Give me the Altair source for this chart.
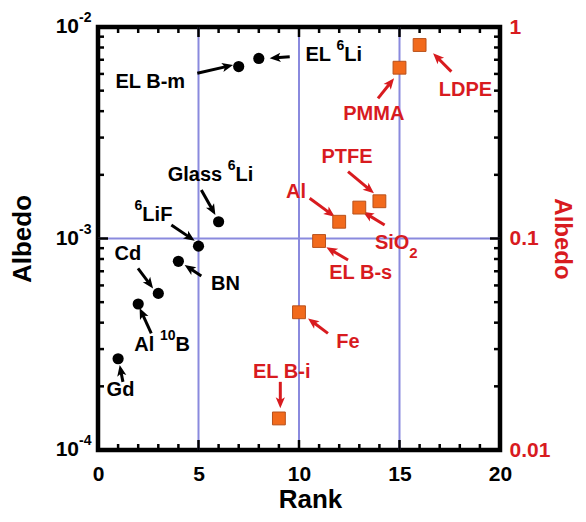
import math
import altair as alt
import pandas as pd

# ---------------- data ----------------
# black circles (left axis, albedo 1e-4 .. 1e-2)
b_rank = [1, 2, 3, 4, 5, 6, 7, 8]
b_albedo = [2.7e-4, 4.9e-4, 5.5e-4, 7.8e-4, 9.2e-4, 1.2e-3, 6.5e-3, 7.1e-3]
# label pieces: (text, kind) with kind "n" normal, "sup" superscript, "sub" subscript
b_label = [
    [("Gd", "n")],
    [("Al ", "n"), ("10", "sup"), ("B", "n")],
    [("Cd", "n")],
    [("BN", "n")],
    [("6", "sup"), ("LiF", "n")],
    [("Glass ", "n"), ("6", "sup"), ("Li", "n")],
    [("EL B-m", "n")],
    [("EL ", "n"), ("6", "sup"), ("Li", "n")],
]
b_label_x = [1.12, 3.19, 1.49, 6.34, 2.76, 5.60, 2.61, 11.73]
b_label_y = [1.92e-4, 3.14e-4, 8.45e-4, 6.09e-4, 1.29e-3, 2.0e-3, 5.49e-3, 7.37e-3]
b_tail_x = [1.24, 2.65, 1.99, 5.14, 3.65, 5.14, 4.94, 9.54]
b_tail_y = [2.10e-4, 3.56e-4, 7.23e-4, 6.65e-4, 1.158e-3, 1.696e-3, 6.04e-3, 7.24e-3]
b_head_x = [1.08, 2.07, 2.74, 4.31, 4.81, 5.84, 6.72, 8.54]
b_head_y = [2.52e-4, 4.69e-4, 5.81e-4, 7.49e-4, 9.76e-4, 1.291e-3, 6.61e-3, 7.11e-3]

# orange squares (right axis, albedo 0.01 .. 1)
o_rank = [9, 10, 11, 12, 13, 14, 15, 16]
o_albedo = [0.0141, 0.0448, 0.0973, 0.120, 0.140, 0.150, 0.642, 0.822]
o_label = [
    [("EL B-i", "n")],
    [("Fe", "n")],
    [("EL B-s", "n")],
    [("Al", "n")],
    [("SiO", "n"), ("2", "sub")],
    [("PTFE", "n")],
    [("PMMA", "n")],
    [("LDPE", "n")],
]
o_label_x = [9.15, 12.44, 13.08, 9.85, 14.84, 12.39, 13.72, 18.28]
o_label_y = [0.02346, 0.0325, 0.0687, 0.1668, 0.0957, 0.2436, 0.388, 0.504]
o_tail_x = [9.07, 11.44, 12.44, 10.53, 14.26, 12.44, 13.93, 17.58]
o_tail_y = [0.0210, 0.0356, 0.0791, 0.155, 0.1158, 0.2069, 0.460, 0.615]
o_head_x = [9.07, 10.45, 11.36, 11.78, 13.18, 13.73, 14.73, 16.67]
o_head_y = [0.01574, 0.0419, 0.0909, 0.1268, 0.1338, 0.1636, 0.572, 0.751]

x_ticklabels = [0, 5, 10, 15, 20]
x_grid = [5, 10, 15]
y_grid = [1e-3]
x_minor = [i for i in range(1, 20) if i % 5]
x_major = [5, 10, 15]
y_minor = [m * d for d in (1e-4, 1e-3) for m in range(2, 10)]
y_major = [1e-3]
left_vals = [1e-4, 1e-3, 1e-2]
left_exp = ["-4", "-3", "-2"]
right_vals = [0.01, 0.1, 1]

# ---------------- styling ----------------
W, H = 402, 423
XDOM = [0, 20]
YB = [1e-4, 1e-2]
YO = [0.01, 1.0]
FONT = "Liberation Sans"
RED = "#d81b1f"
ORANGE = "#f26a1c"
ORANGE_EDGE = "#b8501a"
GRID = "#8a8ade"
FS = {"n": 20, "sup": 14, "sub": 15}
RISE = {"n": 0, "sup": -9, "sub": 10}
# Arial/Liberation Sans Bold advance widths (per 1000 em)
ADV = {"E": 667, "L": 611, " ": 278, "i": 278, "6": 556, "1": 556, "0": 556,
       "2": 556, "G": 778, "l": 278, "a": 556, "s": 556, "F": 611, "A": 722,
       "B": 722, "S": 667, "O": 778, "C": 722, "d": 611, "N": 722, "m": 889,
       "-": 333, "e": 556, "P": 667, "T": 611, "M": 833, "D": 722}


def px(x):
    return (x - XDOM[0]) / (XDOM[1] - XDOM[0]) * W


def py(y, dom):
    a, b = math.log10(dom[0]), math.log10(dom[1])
    return (b - math.log10(y)) / (b - a) * H


def inv_x(p):
    return XDOM[0] + p / W * (XDOM[1] - XDOM[0])


def inv_y(p, dom):
    a, b = math.log10(dom[0]), math.log10(dom[1])
    return 10 ** (b - p / H * (b - a))


def arrows(tx, ty, hx, hy, dom):
    shafts, heads = [], []
    for a, b, c, d in zip(tx, ty, hx, hy):
        x0, y0, x1, y1 = px(a), py(b, dom), px(c), py(d, dom)
        dx, dy = x1 - x0, y1 - y0
        L = math.hypot(dx, dy)
        ex, ey = x1 - dx / L * 6, y1 - dy / L * 6
        shafts.append(dict(x=a, y=b, x2=inv_x(ex), y2=inv_y(ey, dom)))
        heads.append(dict(x=c, y=d, ang=math.degrees(math.atan2(dx, -dy)) % 360))
    return pd.DataFrame(shafts), pd.DataFrame(heads)


def label_pieces(labels, lx, ly, dom):
    rows = []
    for pieces, cx, cy in zip(labels, lx, ly):
        widths = [sum(ADV.get(ch, 600) for ch in t) / 1000 * FS[k] for t, k in pieces]
        left = px(cx) - sum(widths) / 2
        ypx = py(cy, dom)
        for (t, k), w in zip(pieces, widths):
            rows.append(dict(x=inv_x(left), y=inv_y(ypx + RISE[k], dom), t=t, fs=FS[k]))
            left += w
    return pd.DataFrame(rows)


xs = alt.Scale(domain=XDOM, nice=False, zero=False)
xaxis = alt.Axis(values=x_ticklabels, grid=False, ticks=False, domain=False,
                 labelFont=FONT, labelFontSize=21, labelFontWeight="bold",
                 labelColor="black", labelPadding=13, labelFlush=False, title="Rank",
                 titleFont=FONT, titleFontSize=26, titleFontWeight="bold",
                 titleColor="black", titlePadding=2, titleX=212)
ybs = alt.Scale(type="log", domain=YB, nice=False)
ybaxis = alt.Axis(labels=False, ticks=False, domain=False, grid=False,
                  title="Albedo", titleFont=FONT, titleFontSize=26,
                  titleFontWeight="bold", titleColor="black", titlePadding=63)
yos = alt.Scale(type="log", domain=YO, nice=False)
yoaxis = alt.Axis(orient="right", values=right_vals, format="~g", ticks=False,
                  domain=False, grid=False, labelFont=FONT, labelFontSize=21,
                  labelFontWeight="bold", labelColor=RED, labelPadding=9,
                  title="Albedo", titleFont=FONT, titleFontSize=24,
                  titleFontWeight="bold", titleColor=RED, titleAngle=90,
                  titlePadding=0)

XB = alt.X("x:Q", scale=xs, axis=xaxis)
YBe = alt.Y("y:Q", scale=ybs, axis=ybaxis)
YOe = alt.Y("y:Q", scale=yos, axis=yoaxis)

# ---------------- black group ----------------
gx = alt.Chart(pd.DataFrame({"x": x_grid})).mark_rule(color=GRID, strokeWidth=2).encode(x=XB)
gy = alt.Chart(pd.DataFrame({"y": y_grid})).mark_rule(color=GRID, strokeWidth=2).encode(y=YBe)


def xticks(vals, length):
    d = pd.DataFrame({"x": vals})
    bot = alt.Chart(d).mark_rule(color="black", strokeWidth=2.5).encode(
        x=XB, y=alt.value(H), y2=alt.value(H - length))
    top = alt.Chart(d).mark_rule(color="black", strokeWidth=2.5).encode(
        x=XB, y=alt.value(0), y2=alt.value(length))
    return [bot, top]


def yticks(vals, length):
    d = pd.DataFrame({"y": vals})
    lft = alt.Chart(d).mark_rule(color="black", strokeWidth=2.5).encode(
        y=YBe, x=alt.value(0), x2=alt.value(length))
    rgt = alt.Chart(d).mark_rule(color="black", strokeWidth=2.5).encode(
        y=YBe, x=alt.value(W), x2=alt.value(W - length))
    return [lft, rgt]


tick_layers = xticks(x_minor, 6) + xticks(x_major, 10) + yticks(y_minor, 6) + yticks(y_major, 10)

ylab = pd.DataFrame({"y": left_vals, "e": left_exp, "b": ["10"] * 3})
ylab_base = alt.Chart(ylab).mark_text(font=FONT, fontSize=21, fontWeight="bold",
                                      align="right", baseline="middle", color="black").encode(
    y=YBe, x=alt.value(-19), text="b:N")
ylab_exp = alt.Chart(ylab).mark_text(font=FONT, fontSize=14, fontWeight="bold",
                                     align="left", baseline="middle", dy=-9, color="black").encode(
    y=YBe, x=alt.value(-19), text="e:N")

b_shaft, b_head = arrows(b_tail_x, b_tail_y, b_head_x, b_head_y, YB)
HEAD = "M0,0 L0.42,1 L0,0.76 L-0.42,1 Z"

b_sh = alt.Chart(b_shaft).mark_rule(color="black", strokeWidth=3).encode(
    x=XB, y=YBe, x2="x2:Q", y2="y2:Q")
b_hd = alt.Chart(b_head).mark_point(shape=HEAD, filled=True, size=484, color="black",
                                    opacity=1).encode(
    x=XB, y=YBe, angle=alt.Angle("ang:Q", scale=None))
b_pts = alt.Chart(pd.DataFrame({"x": b_rank, "y": b_albedo})).mark_circle(
    size=125, color="black", opacity=1).encode(x=XB, y=YBe)
b_txt = alt.Chart(label_pieces(b_label, b_label_x, b_label_y, YB)).mark_text(
    font=FONT, fontWeight="bold", color="black", baseline="middle", align="left").encode(
    x=XB, y=YBe, text="t:N", size=alt.Size("fs:Q", scale=None))

black = alt.layer(gx, gy, *tick_layers, ylab_base, ylab_exp, b_sh, b_hd, b_pts, b_txt)

# ---------------- orange group ----------------
o_shaft, o_head = arrows(o_tail_x, o_tail_y, o_head_x, o_head_y, YO)
o_sh = alt.Chart(o_shaft).mark_rule(color=RED, strokeWidth=3).encode(
    x=XB, y=YOe, x2="x2:Q", y2="y2:Q")
o_hd = alt.Chart(o_head).mark_point(shape=HEAD, filled=True, size=484, color=RED,
                                    opacity=1).encode(
    x=XB, y=YOe, angle=alt.Angle("ang:Q", scale=None))
o_pts = alt.Chart(pd.DataFrame({"x": o_rank, "y": o_albedo})).mark_square(
    size=165, fill=ORANGE, stroke=ORANGE_EDGE, strokeWidth=1, opacity=1).encode(x=XB, y=YOe)
o_txt = alt.Chart(label_pieces(o_label, o_label_x, o_label_y, YO)).mark_text(
    font=FONT, fontWeight="bold", color=RED, baseline="middle", align="left").encode(
    x=XB, y=YOe, text="t:N", size=alt.Size("fs:Q", scale=None))

orange = alt.layer(o_sh, o_hd, o_pts, o_txt)

chart = alt.layer(black, orange).resolve_scale(y="independent").properties(
    width=W, height=H,
    autosize=alt.AutoSizeParams(type="none"),
    padding={"left": 90, "top": 19, "right": 78, "bottom": 64},
    background="white",
).configure_view(stroke="black", strokeWidth=4.5)

chart.save("out.html", embed_options={"renderer": "svg", "actions": False})
